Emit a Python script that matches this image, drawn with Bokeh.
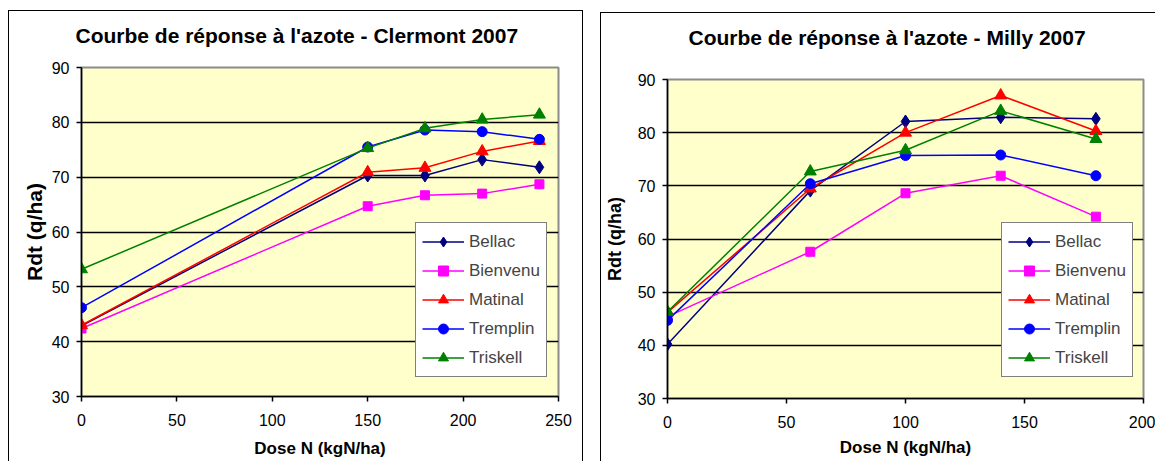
from bokeh.plotting import figure
from bokeh.models import Range1d, Legend, LegendItem, FixedTicker
from bokeh.embed import file_html
from bokeh.resources import INLINE

series_names = ["Bellac", "Bienvenu", "Matinal", "Tremplin", "Triskell"]
series_colors = ["#000080", "#FF00FF", "#FF0000", "#0000FF", "#008000"]
series_markers = ["diamond", "square", "triangle", "circle", "triangle"]
series_sizes = [13, 9, 12, 10, 12]

clermont_dose = [0, 150, 180, 210, 240]
clermont_bellac = [42.9, 70.3, 70.3, 73.2, 71.8]
clermont_bienvenu = [42.4, 64.7, 66.7, 67.0, 68.7]
clermont_matinal = [43.0, 70.9, 71.7, 74.7, 76.6]
clermont_tremplin = [46.2, 75.5, 78.6, 78.3, 76.9]
clermont_triskell = [53.2, 75.3, 78.9, 80.5, 81.4]

milly_dose = [0, 60, 100, 140, 180]
milly_bellac = [40.2, 69.1, 82.1, 82.9, 82.6]
milly_bienvenu = [45.4, 57.6, 68.6, 71.9, 64.2]
milly_matinal = [46.2, 69.5, 80.0, 87.0, 80.3]
milly_tremplin = [44.7, 70.4, 75.7, 75.8, 71.9]
milly_triskell = [46.3, 72.7, 76.7, 84.1, 78.8]

clermont_xticks = [0, 50, 100, 150, 200, 250]
milly_xticks = [0, 50, 100, 150, 200]
yticks = [30, 40, 50, 60, 70, 80, 90]

clermont_title = "Courbe de réponse à l'azote - Clermont 2007"
milly_title = "Courbe de réponse à l'azote - Milly 2007"
xlabel = "Dose N (kgN/ha)"
ylabel = "Rdt (q/ha)"

FONT = "Liberation Sans"


def make_panel(title, dose, values, xmax, xticks, width, height, mb,
               ylabel_size, ylabel_standoff, xlabel_standoff,
               legend_loc, styles, title_offset, title_pad):
    p = figure(width=width, height=height, output_backend="svg", toolbar_location=None,
               x_range=Range1d(0, xmax), y_range=Range1d(30, 90),
               min_border_left=mb[0], min_border_right=mb[1],
               min_border_top=mb[2], min_border_bottom=mb[3],
               styles=styles)
    p.title.text = title
    p.title.text_font = FONT
    p.title.text_font_size = "21px"
    p.title.text_font_style = "bold"
    p.title.text_color = "black"
    p.title.align = "left"
    p.title.vertical_align = "bottom"
    p.title.offset = title_offset
    p.title.standoff = 0
    p.title.padding = dict(left=0, right=0, top=0, bottom=title_pad)

    p.background_fill_color = "#FFFFCC"
    p.border_fill_color = "white"
    p.outline_line_color = "#8c8c8c"
    p.outline_line_width = 2

    p.xgrid.visible = False
    p.ygrid.grid_line_color = "black"
    p.ygrid.grid_line_width = 1.6
    p.ygrid.ticker = FixedTicker(ticks=yticks)

    p.xaxis.ticker = FixedTicker(ticks=xticks)
    p.yaxis.ticker = FixedTicker(ticks=yticks)
    for ax in (p.xaxis, p.yaxis):
        ax.axis_line_color = "black"
        ax.axis_line_width = 1.5
        ax.major_tick_line_color = "black"
        ax.major_tick_line_width = 1.5
        ax.major_tick_out = 5
        ax.major_tick_in = 0
        ax.minor_tick_line_color = None
        ax.major_label_text_font = FONT
        ax.major_label_text_font_size = "16px"
        ax.major_label_text_color = "black"
        ax.axis_label_text_font = FONT
        ax.axis_label_text_font_style = "bold"
        ax.axis_label_text_color = "black"
    p.xaxis.axis_label = xlabel
    p.xaxis.axis_label_text_font_size = "17px"
    p.xaxis.major_label_standoff = 12
    p.xaxis.axis_label_standoff = xlabel_standoff
    p.yaxis.axis_label = ylabel
    p.yaxis.axis_label_text_font_size = ylabel_size
    p.yaxis.major_label_standoff = 7
    p.yaxis.axis_label_standoff = ylabel_standoff

    items = []
    for name, vals, col, mk, sz in zip(series_names, values, series_colors,
                                        series_markers, series_sizes):
        l = p.line(dose, vals, line_color=col, line_width=1.5)
        s = p.scatter(dose, vals, marker=mk, size=sz, fill_color=col, line_color=col)
        items.append(LegendItem(label=name, renderers=[l, s]))
    leg = Legend(items=items, location=legend_loc)
    leg.label_text_font = FONT
    leg.label_text_font_size = "17px"
    leg.glyph_width = 42
    leg.glyph_height = 25
    leg.label_height = 25
    leg.spacing = 4
    leg.padding = 6
    leg.margin = 0
    leg.label_standoff = 5
    leg.border_line_color = "black"
    leg.border_line_width = 1.5
    leg.background_fill_color = "white"
    leg.background_fill_alpha = 1.0
    p.add_layout(leg)
    return p


p1 = make_panel(clermont_title, clermont_dose,
                [clermont_bellac, clermont_bienvenu, clermont_matinal,
                 clermont_tremplin, clermont_triskell],
                250, clermont_xticks, 575, 451, (72, 26, 56, 66), "21px", 3, 10,
                (334, 19),
                {"position": "absolute", "left": "8px", "top": "10px",
                 "box-sizing": "border-box",
                 "border-left": "1px solid black", "border-top": "1px solid black",
                 "border-right": "1px solid black"}, -6, 21)

p2 = make_panel(milly_title, milly_dose,
                [milly_bellac, milly_bienvenu, milly_matinal,
                 milly_tremplin, milly_triskell],
                200, milly_xticks, 555, 449, (66, 13, 66, 64), "18px", 10, 7,
                (334, 21),
                {"position": "absolute", "left": "600px", "top": "12px",
                 "box-sizing": "border-box",
                 "border-left": "1px solid black", "border-top": "1px solid black"},
                21, 31)

open("out.html", "w").write(file_html([p1, p2], INLINE))
